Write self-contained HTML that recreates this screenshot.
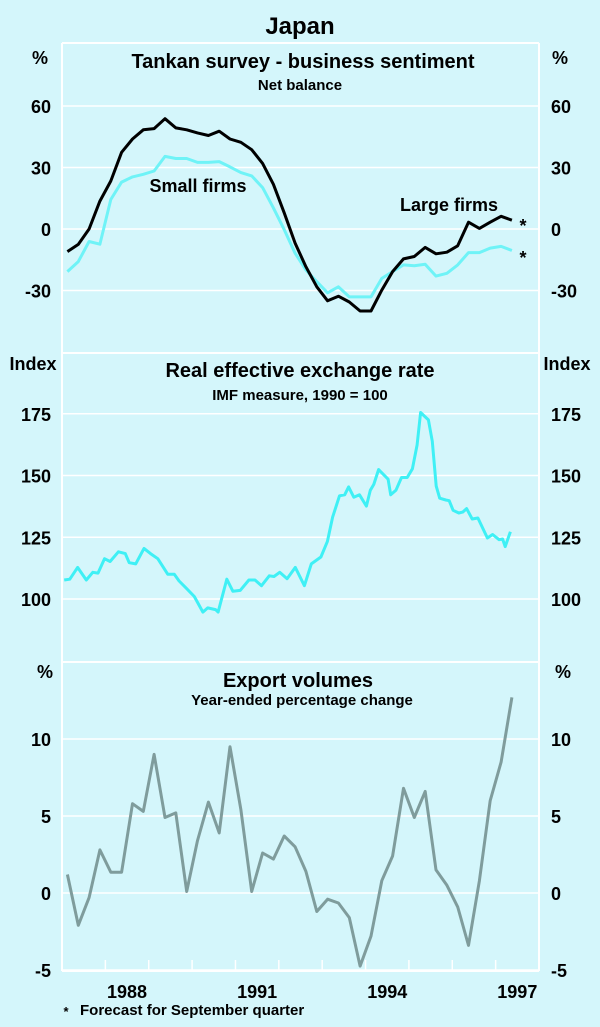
<!DOCTYPE html>
<html><head><meta charset="utf-8"><style>
body{margin:0;background:#d4f6fb;}
svg{display:block;font-family:"Liberation Sans",sans-serif;font-weight:bold;}
</style></head><body>
<svg id="c" width="600" height="1027" viewBox="0 0 600 1027">
<rect width="600" height="1027" fill="#d4f6fb"/>
<g id="grid"></g><g id="marks"></g><g id="labels" fill="#000"></g>
</svg>
<script>
// ---- data ----
const quarterStart = 1987; // first quarter 1987 Q1
const largeFirms = [-11,-7.5,0,13.6,23.4,37.4,43.9,48.4,49,53.8,49.3,48.4,46.9,45.6,47.7,43.9,42.3,38.7,32,21.8,7.9,-6.9,-18.4,-28.2,-35,-32.8,-35.6,-40,-40,-29.8,-20.8,-14.6,-13.4,-9,-12.1,-11.3,-8.2,3.3,0.3,3.3,6.2,4.3];
const smallFirms = [-20.8,-15.9,-6.1,-7.4,14.4,22.9,25.4,26.7,28.3,35.4,34.4,34.4,32.5,32.5,32.9,30.3,27.5,25.9,20.2,10.3,-0.3,-11.8,-20,-25.7,-31.1,-28.2,-33.1,-33.1,-33.1,-24.1,-20.8,-17.5,-17.9,-17.2,-23,-21.6,-17.5,-11.5,-11.5,-9.3,-8.5,-10.5];
const reerDates = [1987.05,1987.18,1987.36,1987.56,1987.71,1987.83,1987.98,1988.11,1988.30,1988.46,1988.55,1988.70,1988.89,1989.04,1989.21,1989.44,1989.59,1989.70,1989.86,1990.05,1990.25,1990.36,1990.54,1990.60,1990.80,1990.94,1991.11,1991.31,1991.45,1991.60,1991.78,1991.89,1992.02,1992.19,1992.38,1992.59,1992.75,1992.97,1993.12,1993.24,1993.40,1993.52,1993.61,1993.73,1993.86,1994.02,1994.11,1994.19,1994.30,1994.52,1994.58,1994.70,1994.83,1994.96,1995.08,1995.19,1995.27,1995.45,1995.54,1995.63,1995.71,1995.85,1995.93,1996.02,1996.15,1996.24,1996.33,1996.46,1996.59,1996.81,1996.93,1997.08,1997.16,1997.22,1997.34];
const reerValues = [107.7,108,112.8,107.7,110.8,110.5,116.3,115.2,119.1,118.4,114.7,114.2,120.5,118.4,116.3,110,110,107.3,104.5,101,94.7,96.4,95.7,94.7,108,103.1,103.5,107.7,107.7,105.4,109.4,109.1,110.8,108.2,112.8,105.4,114.2,117,123.3,133.1,141.8,142.2,145.4,141.2,142.2,137.6,144,146.4,152.4,148.5,142.2,144,149.2,149.2,152.7,162.4,175.5,172.5,163.8,145.7,140.8,140.1,139.8,135.9,134.8,135.2,136.6,132.4,132.8,124.7,126.1,124,124.3,121.2,127.2];
const exports = [1.2,-2.1,-0.3,2.8,1.35,1.35,5.8,5.3,9,4.9,5.2,0.1,3.4,5.9,3.9,9.5,5.4,0.1,2.6,2.2,3.7,3,1.4,-1.2,-0.4,-0.65,-1.6,-4.75,-2.8,0.8,2.4,6.8,4.9,6.6,1.5,0.5,-0.9,-3.4,0.8,6,8.5,12.7];
const ticks1 = [60,30,0,-30];
const ticks2 = [175,150,125,100];
const ticks3 = [10,5,0,-5];
const yearLabels = [1988,1991,1994,1997];

// ---- geometry ----
const L=62,R=539;
const x=t=>L+(t-1987)*(R-L)/11;
const qx=i=>x(quarterStart+0.125+i*0.25);
const y1=v=>229-v*2.05;
const y2=v=>599-(v-100)*2.47;
const y3=v=>893-v*15.4;
const NS='http://www.w3.org/2000/svg';
function mk(tag,attrs,parent,text){const e=document.createElementNS(NS,tag);for(const k in attrs)e.setAttribute(k,attrs[k]);if(text!==undefined)e.textContent=text;document.getElementById(parent).appendChild(e);return e;}
const W='#ffffff';
let e;
e=mk('line',{x1:L,y1:43,x2:L,y2:971,stroke:W,'stroke-width':2},'grid');


e=mk('line',{x1:R,y1:43,x2:R,y2:971,stroke:W,'stroke-width':2},'grid');


[43,353,662,971].forEach(yy=>{
  e=mk('line',{x1:L,y1:yy,x2:R,y2:yy,stroke:W,'stroke-width':2},'grid');
  
  
});
function grids(ticks,yf,name){
  ticks.forEach(v=>{
    e=mk('line',{x1:L,y1:yf(v),x2:R,y2:yf(v),stroke:W,'stroke-width':1.5},'grid');
    
    
    e=mk('text',{x:51,y:yf(v)+7,'text-anchor':'end','font-size':18},'labels',String(v));
    
    
    e=mk('text',{x:551,y:yf(v)+7,'text-anchor':'start','font-size':18},'labels',String(v));
    
    
  });
}
grids(ticks1,y1,'tankan');grids(ticks2,y2,'reer');grids(ticks3,y3,'exports');
for(let yr=1988;yr<=1997;yr++){
  e=mk('line',{x1:x(yr),y1:960,x2:x(yr),y2:971,stroke:W,'stroke-width':1.5},'grid');
  
  
}
yearLabels.forEach(yr=>{
  e=mk('text',{x:x(yr+0.5),y:998,'text-anchor':'middle','font-size':18},'labels',String(yr));
  
  
});
function line(pts,color,w,name){
  e=mk('polyline',{points:pts.map(p=>p[0].toFixed(1)+','+p[1].toFixed(1)).join(' '),fill:'none',stroke:color,'stroke-width':w,'stroke-linejoin':'round'},'marks');
  
  
}
line(smallFirms.map((v,i)=>[qx(i),y1(v)]),'#6ff3f7',3,'small-firms-line');
line(largeFirms.map((v,i)=>[qx(i),y1(v)]),'#000000',3,'large-firms-line');
line(reerValues.map((v,i)=>[x(reerDates[i]),y2(v)]),'#3ff0f5',3,'reer-line');
line(exports.map((v,i)=>[qx(i),y3(v)]),'#7f9c9c',3,'export-volumes-line');
const T=[
 ['Japan',300,34,24,'middle','chart-title'],
 ['Tankan survey -  business sentiment',303,68,20,'middle','tankan-title'],
 ['Net balance',300,90,15,'middle','tankan-subtitle'],
 ['%',40,64,18,'middle','tankan-left-unit'],
 ['%',560,64,18,'middle','tankan-right-unit'],
 ['Small firms',198,192,18,'middle','small-firms-label'],
 ['Large firms',449,211,18,'middle','large-firms-label'],
 ['*',523,232,18,'middle','large-firms-forecast-mark'],
 ['*',523,264,18,'middle','small-firms-forecast-mark'],
 ['Index',33,370,18,'middle','reer-left-unit'],
 ['Index',567,370,18,'middle','reer-right-unit'],
 ['Real effective exchange rate',300,377,20,'middle','reer-title'],
 ['IMF measure, 1990 = 100',300,400,15,'middle','reer-subtitle'],
 ['%',45,678,18,'middle','exports-left-unit'],
 ['%',563,678,18,'middle','exports-right-unit'],
 ['Export volumes',298,687,20,'middle','exports-title'],
 ['Year-ended percentage change',302,705,15,'middle','exports-subtitle'],
 ['*',66,1016,13,'middle','footnote-mark'],
 ['Forecast for September quarter',80,1015,15,'start','footnote']
];
T.forEach(t=>{
  e=mk('text',{x:t[1],y:t[2],'font-size':t[3],'text-anchor':t[4]},'labels',t[0]);
  
  
});
</script>
</body></html>
